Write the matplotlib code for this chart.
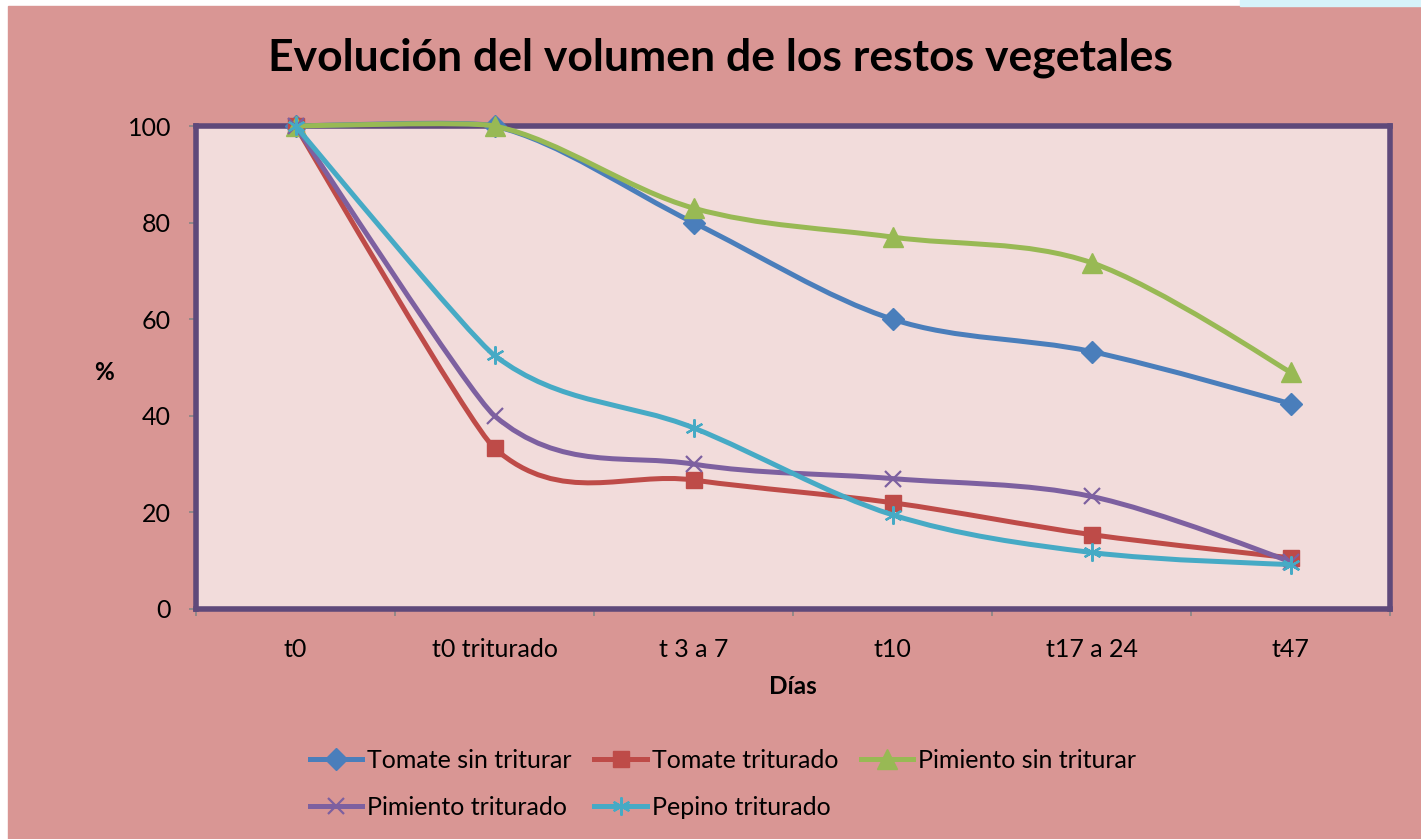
import numpy as np
import matplotlib
matplotlib.use("Agg")
import matplotlib.pyplot as plt
from matplotlib.path import Path
from matplotlib.patches import PathPatch, Rectangle
from matplotlib.lines import Line2D

plt.rcParams['font.family'] = ['Lato', 'DejaVu Sans']

# data
dias = ['t0', 't0 triturado', 't 3 a 7', 't10', 't17 a 24', 't47']
series_names = ['Tomate sin triturar', 'Tomate triturado', 'Pimiento sin triturar',
                'Pimiento triturado', 'Pepino triturado']
tomate_sin = [100, 100, 80, 60, 53.3, 42.5]
tomate_trit = [100, 33.3, 26.7, 22.0, 15.4, 10.6]
pimiento_sin = [100, 100, 83.0, 77.0, 71.7, 49.0]
pimiento_trit = [100, 40.0, 30.0, 27.0, 23.3, 9.8]
pepino_trit = [100, 52.5, 37.5, 19.5, 11.7, 9.2]

colors = ['#4A7EBB', '#BE4B48', '#98B954', '#7D60A0', '#46AAC5']
markers = ['D', 's', '^', 'x', (6, 2, 0)]
msizes = [11, 12, 14, 12, 13]

BG = '#D99694'
PLOT_BG = '#F2DCDB'
BORDER = '#5F497A'
FS = 18


def smooth_path(xs, ys):
    # Excel-style smoothed line: cubic Bezier segments (Catmull-Rom like)
    pts = np.column_stack([xs, ys]).astype(float)
    n = len(pts)
    verts = [pts[0]]
    codes = [Path.MOVETO]
    for i in range(n - 1):
        p0 = pts[i - 1] if i > 0 else pts[i]
        p1 = pts[i]
        p2 = pts[i + 1]
        p3 = pts[i + 2] if i + 2 < n else pts[i + 1]
        # softer tangents on the end segments
        f1 = 6.0 if i > 0 else 12.0
        f2 = 6.0 if (i > 0 and i + 2 < n) else 16.0
        c1 = p1 + (p2 - p0) / f1
        c2 = p2 - (p3 - p1) / f2
        verts += [c1, c2, p2]
        codes += [Path.CURVE4] * 3
    return Path(verts, codes)


fig = plt.figure(figsize=(14.21, 8.39), dpi=100, facecolor='white')
fig.patches.append(Rectangle((8 / 1421, 0), 1 - 8 / 1421, 1 - 6 / 839,
                             transform=fig.transFigure, color=BG, zorder=-10))
fig.patches.append(Rectangle((1240 / 1421, 1 - 6 / 839), 181 / 1421, 6 / 839,
                             transform=fig.transFigure, color='#D6F3FA', zorder=-10))

ax = fig.add_axes([196 / 1421, 1 - 609 / 839, 1194 / 1421, 483 / 839])
ax.set_facecolor(PLOT_BG)

x = np.arange(len(dias))
all_series = [tomate_sin, tomate_trit, pimiento_sin, pimiento_trit, pepino_trit]
handles = []
for k, ys in enumerate(all_series):
    patch = PathPatch(smooth_path(x, ys), fill=False, edgecolor=colors[k], lw=3.6,
                      zorder=3 + k, clip_on=False, capstyle='round', joinstyle='round')
    ax.add_patch(patch)
    mew = 1.6 if k >= 3 else 1
    ax.plot(x, ys, linestyle='none', marker=markers[k], ms=msizes[k], color=colors[k],
            mec=colors[k], mew=mew, zorder=3 + k, clip_on=False)
    handles.append(Line2D([], [], color=colors[k], lw=3.6, marker=markers[k],
                          ms=msizes[k], mec=colors[k], mew=mew))

ax.set_xlim(-0.5, len(dias) - 0.5)
ax.set_ylim(0, 100)
ax.set_yticks([0, 20, 40, 60, 80, 100])
ax.set_xticks(x)
ax.set_xticklabels(dias)
ax.set_xticks(np.arange(-0.5, len(dias), 1), minor=True)
ax.tick_params(axis='x', which='major', length=0, pad=21, labelsize=FS)
ax.tick_params(axis='x', which='minor', length=5, color='#868686', width=1.2)
ax.tick_params(axis='y', length=5, color='#868686', width=1.2, pad=13, labelsize=FS)
for s in ax.spines.values():
    s.set_color(BORDER)
    s.set_linewidth(4)

fig.suptitle('Evolución del volumen de los restos vegetales', x=720 / 1421, y=1 - 58 / 839,
             va='center', fontsize=32, fontweight='bold')
fig.text(104 / 1421, 1 - 372 / 839, '%', ha='center', va='center', fontsize=17.5,
         fontweight='bold')
fig.text(793 / 1421, 1 - 686 / 839, 'Días', ha='center', va='center', fontsize=17.5,
         fontweight='bold')

order = [0, 3, 1, 4, 2]
fig.legend([handles[i] for i in order], [series_names[i] for i in order], ncol=3,
           loc='center', bbox_to_anchor=(723 / 1421, 1 - 784 / 839), frameon=False,
           fontsize=FS, handlelength=2.1, handletextpad=0.2, columnspacing=0.9,
           labelspacing=0.95)

fig.savefig('out.png', dpi=100, facecolor=fig.get_facecolor())
